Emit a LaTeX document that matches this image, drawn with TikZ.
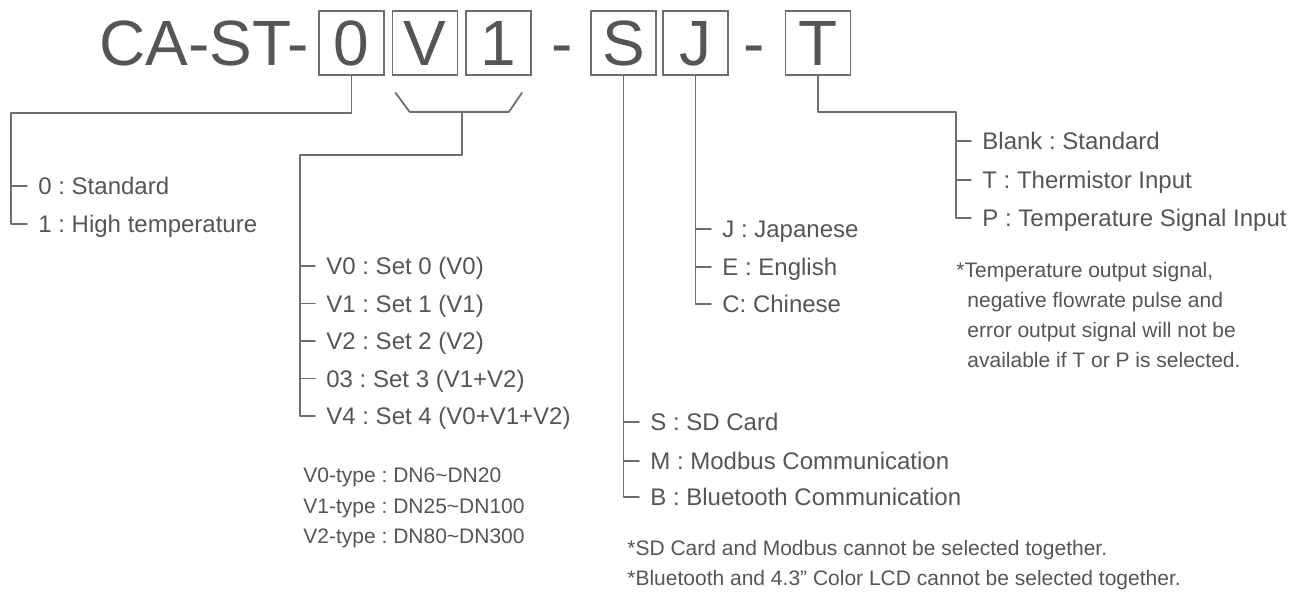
\documentclass[tikz,border=0pt]{standalone}
\usepackage{fontspec}
\setmainfont{Liberation Sans}
\usetikzlibrary{calc, positioning}
\definecolor{ink}{HTML}{555555}
\definecolor{lineg}{HTML}{6E6E6E}
\frenchspacing
\tikzset{
  pn/.style={ink, inner sep=0pt, text height=22.9pt, text depth=0pt, font=\fontsize{32}{32}\selectfont},
  digit/.style={pn, draw=lineg, line width=0.9pt, minimum width=32.5pt, minimum height=32pt},
  item/.style={ink, anchor=west, inner xsep=5.5pt, inner ysep=0pt, text height=8.6pt, text depth=0pt, font=\fontsize{12}{14}\selectfont},
  note/.style={item, inner xsep=0pt, text height=7.5pt, font=\fontsize{10.5}{12}\selectfont},
  lead/.style={lineg, line width=0.9pt, line cap=round, line join=round}
}

\begin{document}
\begin{tikzpicture}[x=0.5pt, y=-0.5pt]
  \useasboundingbox (0,0) rectangle (1300,597);
  % part number
  \node[pn, anchor=west] (pfx) at (99,43) {CA-ST-};
  \node[digit] (b0) at (351.5,43) {0};
  \node[digit] (bV) at (425,43) {V};
  \node[digit] (b1) at (498.5,43) {1};
  \node[pn] (d1) at (562,43) {-};
  \node[digit] (bS) at (623.5,43) {S};
  \node[digit] (bJ) at (695.5,43) {J};
  \node[pn] (d2) at (754,43) {-};
  \node[digit] (bT) at (818,43) {T};

  % temperature range
  \foreach \i/\y/\t in {0/186/{0 : Standard}, 1/224/{1 : High temperature}}
    \node[item] (o\i) at (27,\y) {\t};
  \coordinate (k0) at (11,113);
  \draw[lead] (b0.south) |- (k0) |- (o1.west);
  \draw[lead] (o0.west) -- (o0.west -| k0);

  % sensor set
  \draw[lead] ($(bV.south west)+(4,17)$) -- ($(bV.south west)+(18,36)$) -- ($(b1.south east)+(-23,36)$) -- ($(b1.south east)+(-10,17)$);
  \coordinate (kv) at ($(bV.south west)!.5!(b1.south east)+(0,36)$);
  \coordinate (jv) at (300,155);
  \foreach \i/\y/\t in {0/266/{V0 : Set 0 (V0)}, 1/303.5/{V1 : Set 1 (V1)}, 2/341/{V2 : Set 2 (V2)}, 3/378.5/{03 : Set 3 (V1+V2)}, 4/416/{V4 : Set 4 (V0+V1+V2)}}
    \node[item] (v\i) at (315,\y) {\t};
  \draw[lead] (kv) |- (jv) |- (v4.west);
  \foreach \i in {0,...,3} \draw[lead] (v\i.west) -- (v\i.west -| jv);
  \foreach \i/\y/\t in {0/475/{V0-type : DN6\textasciitilde DN20}, 1/506/{V1-type : DN25\textasciitilde DN100}, 2/536/{V2-type : DN80\textasciitilde DN300}}
    \node[note] (vt\i) at (303,\y) {\t};

  % communication
  \foreach \i/\y/\t in {0/422/{S : SD Card}, 1/461/{M : Modbus Communication}, 2/497/{B : Bluetooth Communication}}
    \node[item] (s\i) at (639,\y) {\t};
  \draw[lead] (bS.south) |- (s2.west);
  \foreach \i in {0,1} \draw[lead] (s\i.west) -- (s\i.west -| bS.south);
  \node[note] (sn0) at (627,548) {*SD Card and Modbus cannot be selected together.};
  \node[note] (sn1) at (627,578) {*Bluetooth and 4.3” Color LCD cannot be selected together.};

  % language
  \foreach \i/\y/\t in {0/229/{J : Japanese}, 1/267/{E : English}, 2/304/{C: Chinese}}
    \node[item] (j\i) at (711,\y) {\t};
  \draw[lead] (bJ.south) |- (j2.west);
  \foreach \i in {0,1} \draw[lead] (j\i.west) -- (j\i.west -| bJ.south);

  % temperature input
  \foreach \i/\y/\t in {0/141/{Blank : Standard}, 1/180/{T : Thermistor Input}, 2/218/{P : Temperature Signal Input}}
    \node[item] (p\i) at (971,\y) {\t};
  \coordinate (kt) at (956,112);
  \draw[lead] (bT.south) |- (kt) |- (p2.west);
  \foreach \i in {0,1} \draw[lead] (p\i.west) -- (p\i.west -| kt);
  \node[note] (tn0) at (956,270) {*Temperature output signal,};
  \foreach \i/\y/\t in {1/300/{negative flowrate pulse and}, 2/330/{error output signal will not be}, 3/360/{available if T or P is selected.}}
    \node[note] (tn\i) at (967,\y) {\t};
\end{tikzpicture}
\end{document}
